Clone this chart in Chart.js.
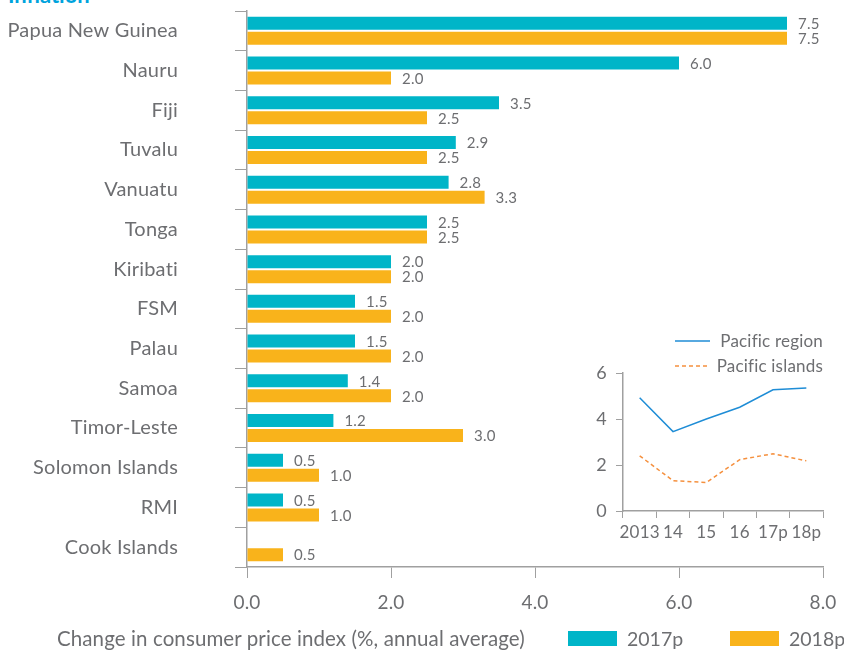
<!DOCTYPE html>
<html>
<head>
<meta charset="utf-8">
<script src="https://cdn.jsdelivr.net/npm/chart.js@4/dist/chart.umd.min.js"></script>
<style>
  html, body { margin: 0; padding: 0; background: #fff; }
  body { width: 844px; height: 651px; position: relative; overflow: hidden; font-family: Lato, "Open Sans", sans-serif; font-variant-ligatures: none; }
  #main { position: absolute; left: 0; top: 0; }
  #inset { position: absolute; left: 560px; top: 325px; }
  #title { position: absolute; left: 8px; top: -19px; font-size: 22px; font-weight: bold; color: #00a3dd; }
  #caption { position: absolute; left: 57px; top: 626px; font-size: 20.5px; color: #6d6e71; white-space: nowrap; letter-spacing: 0.1px; }
  .leg { position: absolute; top: 627px; font-size: 19.5px; color: #6d6e71; white-space: nowrap; display: flex; align-items: center; }
  .box { width: 49px; height: 15px; margin-right: 10px; display: inline-block; }
</style>
</head>
<body>
<div id="title">Inflation</div>
<canvas id="main" width="844" height="651"></canvas>
<canvas id="inset" width="284" height="230"></canvas>
<div id="caption">Change in consumer price index (%, annual average)</div>
<div class="leg" style="left:568px"><span class="box" style="background:#00b5c8"></span>2017p</div>
<div class="leg" style="left:730px"><span class="box" style="background:#f9b31b"></span>2018p</div>
<script>
const categories = ["Papua New Guinea", "Nauru", "Fiji", "Tuvalu", "Vanuatu", "Tonga", "Kiribati", "FSM", "Palau", "Samoa", "Timor-Leste", "Solomon Islands", "RMI", "Cook Islands"];
const values2017 = [7.5, 6.0, 3.5, 2.9, 2.8, 2.5, 2.0, 1.5, 1.5, 1.4, 1.2, 0.5, 0.5, null];
const values2018 = [7.5, 2.0, 2.5, 2.5, 3.3, 2.5, 2.0, 2.0, 2.0, 2.0, 3.0, 1.0, 1.0, 0.5];
const xTicks = [0, 2, 4, 6, 8];

const insetYears = ["2013", "14", "15", "16", "17p", "18p"];
const pacificRegion = [4.92, 3.45, 4.0, 4.51, 5.27, 5.35];
const pacificIslands = [2.40, 1.32, 1.24, 2.23, 2.49, 2.18];
const insetTicks = [0, 2, 4, 6];

const GRAY = "#6d6e71";
const AXIS = "#a0a0a0";
const FONT = "Lato, 'Open Sans', sans-serif";

const noLigatures = {
  id: "noLigatures",
  beforeDraw(chart) { chart.ctx.letterSpacing = "0.2px"; }
};

const valueLabels = {
  id: "valueLabels",
  afterDatasetsDraw(chart) {
    const ctx = chart.ctx;
    ctx.save();
    ctx.font = "15px " + FONT;
    ctx.fillStyle = GRAY;
    ctx.textBaseline = "middle";
    ctx.textAlign = "left";
    chart.data.datasets.forEach((ds, i) => {
      const meta = chart.getDatasetMeta(i);
      meta.data.forEach((el, j) => {
        const v = ds.data[j];
        if (v === null || v === undefined) return;
        ctx.fillText(v.toFixed(1), el.x + 11, el.y + 1);
      });
    });
    ctx.restore();
  }
};

new Chart(document.getElementById("main"), {
  type: "bar",
  data: {
    labels: categories,
    datasets: [
      { label: "2017p", data: values2017, backgroundColor: "#00b5c8", categoryPercentage: 0.755, barPercentage: 0.867 },
      { label: "2018p", data: values2018, backgroundColor: "#f9b31b", categoryPercentage: 0.755, barPercentage: 0.867 }
    ]
  },
  options: {
    indexAxis: "y",
    responsive: false,
    animation: false,
    layout: { padding: { top: 11, right: 21, left: 0, bottom: 0 } },
    plugins: { legend: { display: false }, tooltip: { enabled: false } },
    scales: {
      x: {
        min: 0, max: 8,
        afterBuildTicks: (s) => { s.ticks = xTicks.map(v => ({ value: v })); },
        afterFit: (s) => { s.height = 84; s.paddingLeft = 0; s.paddingRight = 0; },
        grid: { drawOnChartArea: false, drawTicks: true, tickLength: 11, color: AXIS },
        border: { color: AXIS, width: 1.5 },
        ticks: { color: GRAY, font: { family: FONT, size: 19 }, padding: 13, callback: (v) => Number(v).toFixed(1) }
      },
      y: {
        afterFit: (s) => { s.width = 247; s.paddingTop = 0; s.paddingBottom = 0; },
        grid: { offset: true, drawOnChartArea: false, drawTicks: true, tickLength: 12, color: AXIS },
        border: { color: AXIS, width: 1.5 },
        ticks: { color: GRAY, font: { family: FONT, size: 20 }, padding: 57 }
      }
    }
  },
  plugins: [noLigatures, valueLabels]
});

const insetLegend = {
  id: "insetLegend",
  afterDraw(chart) {
    const ctx = chart.ctx;
    const items = [
      { text: "Pacific region", color: "#1f8dd6", dash: [], y: 16 },
      { text: "Pacific islands", color: "#f5903e", dash: [4, 3], y: 41 }
    ];
    ctx.save();
    ctx.font = "17px " + FONT;
    ctx.textBaseline = "middle";
    items.forEach(it => {
      ctx.strokeStyle = it.color;
      ctx.lineWidth = 1.5;
      ctx.setLineDash(it.dash);
      ctx.beginPath();
      ctx.moveTo(115, it.y);
      ctx.lineTo(150, it.y);
      ctx.stroke();
      ctx.fillStyle = GRAY;
      ctx.textAlign = "right";
      ctx.fillText(it.text, 263, it.y + 1);
    });
    ctx.restore();
  }
};

new Chart(document.getElementById("inset"), {
  type: "line",
  data: {
    labels: insetYears,
    datasets: [
      { label: "Pacific region", data: pacificRegion, borderColor: "#1f8dd6", borderWidth: 1.5, pointRadius: 0, tension: 0, fill: false },
      { label: "Pacific islands", data: pacificIslands, borderColor: "#f5903e", borderWidth: 1.5, borderDash: [4, 3], pointRadius: 0, tension: 0, fill: false }
    ]
  },
  options: {
    responsive: false,
    animation: false,
    layout: { padding: { top: 48, right: 21, left: 0, bottom: 0 } },
    plugins: { legend: { display: false }, tooltip: { enabled: false } },
    scales: {
      x: {
        offset: true,
        afterFit: (s) => { s.height = 44; s.paddingLeft = 0; s.paddingRight = 0; },
        grid: { offset: true, drawOnChartArea: false, drawTicks: true, tickLength: 7, color: AXIS },
        border: { color: AXIS, width: 1.5 },
        ticks: { color: GRAY, font: { family: FONT, size: 17 }, padding: 4, maxRotation: 0, autoSkip: false }
      },
      y: {
        min: 0, max: 6,
        afterBuildTicks: (s) => { s.ticks = insetTicks.map(v => ({ value: v })); },
        afterFit: (s) => { s.width = 63; s.paddingTop = 0; s.paddingBottom = 0; },
        grid: { drawOnChartArea: false, drawTicks: true, tickLength: 7, color: AXIS },
        border: { color: AXIS, width: 1.5 },
        ticks: { color: GRAY, font: { family: FONT, size: 18 }, padding: 9 }
      }
    }
  },
  plugins: [noLigatures, insetLegend]
});
</script>
</body>
</html>
